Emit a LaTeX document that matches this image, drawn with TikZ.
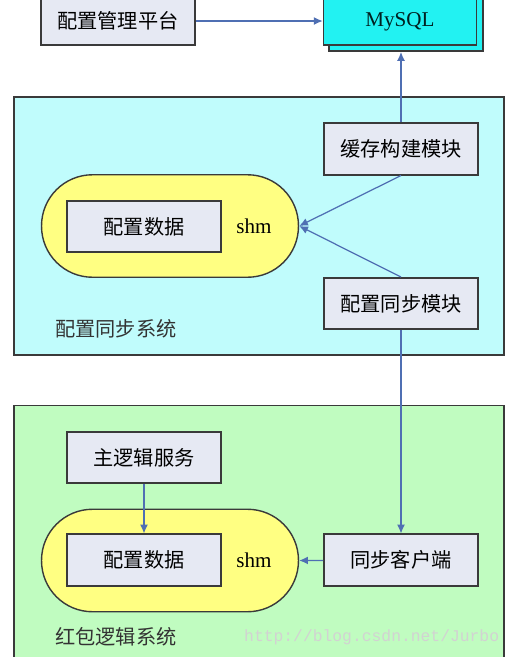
\documentclass[tikz,border=0pt]{standalone}
\usepackage{fontspec}
\setmainfont{Liberation Serif}
\setmonofont{Liberation Mono}
\newfontfamily\cjk{Noto Sans CJK SC}
\usetikzlibrary{arrows.meta}
\definecolor{boxfill}{HTML}{E6E9F3}
\definecolor{edgegray}{HTML}{3A3A3A}
\definecolor{syncpanel}{HTML}{C0FCFC}
\definecolor{logicpanel}{HTML}{C0FCC0}
\definecolor{shmyellow}{HTML}{FFFF82}
\definecolor{dbcyan}{HTML}{22F2F2}
\definecolor{flowblue}{HTML}{4F6FB3}
\colorlet{watermark}{gray!35}

\begin{document}
\begin{tikzpicture}[x=0.02cm, y=-0.02cm,
    panel/.style={draw=edgegray, line width=0.9pt, minimum width=9.8cm},
    modbox/.style={draw=edgegray, line width=0.9pt, fill=boxfill, inner sep=0pt,
        minimum width=3.08cm, minimum height=1.03cm, font=\cjk\fontsize{11.5}{14}\selectfont},
    topbox/.style={modbox, anchor=south, minimum height=1.6cm},
    shmring/.style={draw=edgegray, line width=0.8pt, fill=shmyellow, inner sep=0pt,
        minimum width=5.14cm, minimum height=2.05cm, rounded corners=1.02cm},
    flow/.style={draw=flowblue, line width=0.7pt, -{Latex[length=5pt,width=4.5pt]}},
    caption/.style={anchor=west, font=\cjk\fontsize{11.5}{14}\selectfont, text=black!80}]
        \useasboundingbox (0,0) rectangle (510,657);
        % panels
        \node[panel, fill=syncpanel, minimum height=5.16cm] (syncsys) at (259,226) {};
        \node[panel, fill=logicpanel, minimum height=5.3cm] (logicsys) at (259,538) {};
        \node[caption] (synclabel) at (49,329) {配置同步系统};
        \node[caption] (logiclabel) at (49,637) {红包逻辑系统};
        \node[anchor=west, text=watermark, font=\ttfamily\fontsize{9.3}{11}\selectfont] (wm) at (238,637) {http://blog.csdn.net/Jurbo};
        % ~~~~~~~~~~~~~~~~~
        % top row, cut by the page edge
        \node[topbox, label={[anchor=center, yshift=0.5cm, font=\cjk\fontsize{11.5}{14}\selectfont]south:配置管理平台}] (admin) at (118,46) {};
        \node[topbox, fill=dbcyan] (dbshadow) at (406,52) {};
        \node[topbox, fill=dbcyan, minimum width=3.06cm,
            label={[anchor=center, yshift=0.48cm, font=\fontsize{12}{14}\selectfont, text=black!75!teal]south:MySQL}] (mysql) at (400,45.5) {};
        % config sync system
        \node[modbox] (cachebuild) at (401,149) {缓存构建模块};
        \node[modbox] (syncmod) at (401,303.5) {配置同步模块};
        \node[shmring] (shmA) at (170,226) {};
        \node[modbox] (dataA) at (144,226.5) {配置数据};
        \node[font=\fontsize{12}{14}\selectfont] (shmtextA) at (254,226) {shm};
        % red packet logic system
        \node[modbox] (mainlogic) at (144,457.5) {主逻辑服务};
        \node[shmring] (shmB) at (170,560.5) {};
        \node[modbox] (dataB) at (144,560) {配置数据};
        \node[font=\fontsize{12}{14}\selectfont] (shmtextB) at (254,560) {shm};
        \node[modbox] (syncclient) at (401,560) {同步客户端};
        % ~~~~~~~~~~~~~~~~~
        \draw[flow] (admin.east |- 0,21) -- (mysql.west |- 0,21);
        \draw[flow] (cachebuild.north) -- (dbshadow.south -| cachebuild.north);
        \draw[flow] (cachebuild.south) -- (shmA.east);
        \draw[flow] (syncmod.north) -- (shmA.east);
        \draw[flow] (syncmod.south) -- (syncclient.north);
        \draw[flow] (mainlogic) -- (dataB);
        \draw[flow] (syncclient) -- (shmB.east);
    \end{tikzpicture}
\end{document}
